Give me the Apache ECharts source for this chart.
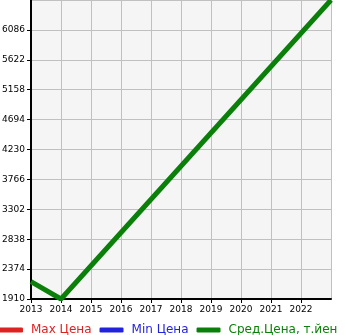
<!DOCTYPE html>
<html><head><meta charset="utf-8">
<script src="https://cdn.jsdelivr.net/npm/echarts@6/dist/echarts.min.js"></script>
<style>html,body{margin:0;padding:0;background:#fff}#c{width:345px;height:335px}</style>
</head><body><div id="c"></div>
<script>
var years = [2013, 2014, 2023];
var avgPrice = [2180, 1910, 6550];
var maxPrice = [];
var minPrice = [];
var seriesNames = ['Max Цена', 'Min Цена', 'Сред.Цена, т.йен'];
var seriesColors = ['#dd2222', '#2222dd', '#0a800a'];
var yMin = 1910, yMax = 6550, yStep = 464;
var xMin = 2013, xMax = 2023;

var chart = echarts.init(document.getElementById('c'), null, {renderer: 'canvas'});
var font = 'DejaVu Sans';
chart.setOption({
  animation: false,
  textStyle: {fontFamily: font},
  grid: {left: 31, right: 14, top: 0, bottom: 36, show: true, backgroundColor: '#f5f5f5', borderWidth: 0,
    outerBoundsMode: 'none', containLabel: false},
  legend: {
    left: -1, bottom: -1, padding: 0, itemWidth: 24, itemHeight: 5, itemGap: 8, icon: 'roundRect',
    textStyle: {fontFamily: font, fontSize: 12, padding: [0, 0, 0, 3]},
    data: seriesNames.map(function (n, i) { return {name: n, textStyle: {color: seriesColors[i]}}; })
  },
  xAxis: {
    type: 'value', min: xMin, max: xMax, interval: 1,
    axisLine: {show: true, lineStyle: {color: '#000', width: 2}},
    axisTick: {show: true, length: 4, lineStyle: {color: '#000'}},
    axisLabel: {color: '#000', fontSize: 9, fontFamily: font, margin: 6, showMaxLabel: false,
      formatter: function (v) { return String(v); }},
    splitLine: {show: true, lineStyle: {color: '#c0c0c0', width: 1}}
  },
  yAxis: {
    type: 'value', min: yMin, max: yMax, interval: yStep,
    axisLine: {show: true, lineStyle: {color: '#000', width: 2}},
    axisTick: {show: true, length: 4, lineStyle: {color: '#000'}},
    axisLabel: {color: '#000', fontSize: 9, fontFamily: font, margin: 6, showMaxLabel: false,
      padding: [0, 0, 5, 0],
      formatter: function (v) { return String(v); }},
    splitLine: {show: true, lineStyle: {color: '#c0c0c0', width: 1}}
  },
  series: [
    {name: seriesNames[0], type: 'line', data: maxPrice, color: seriesColors[0], showSymbol: false},
    {name: seriesNames[1], type: 'line', data: minPrice, color: seriesColors[1], showSymbol: false},
    {name: seriesNames[2], type: 'line', color: seriesColors[2], showSymbol: false,
      lineStyle: {width: 5, color: seriesColors[2]},
      data: years.map(function (y, i) { return [y, avgPrice[i]]; })}
  ]
});
</script></body></html>
